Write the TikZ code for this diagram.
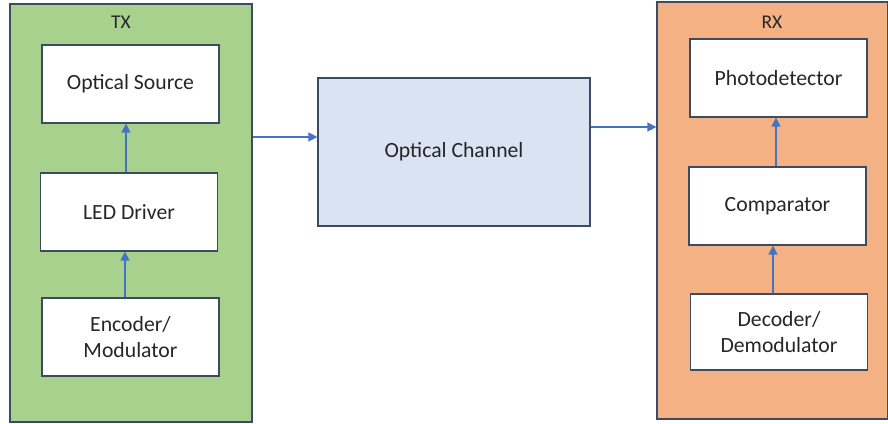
\documentclass[tikz,border=0pt]{standalone}
\usepackage{fontspec}
\setmainfont{Carlito}
\usetikzlibrary{arrows.meta}
\definecolor{txgreen}{HTML}{A9D18E}
\definecolor{rxorange}{HTML}{F4B183}
\definecolor{chblue}{HTML}{DAE3F3}
\definecolor{edge}{HTML}{3B4B63}
\definecolor{arrblue}{HTML}{4472C4}
\definecolor{txt}{HTML}{262626}
\tikzset{
  frame/.style={draw=edge, line width=1.2pt, inner sep=0pt},
  block/.style={draw=edge, line width=1.2pt, fill=white, minimum width=177pt, minimum height=78pt, inner sep=0pt, align=center, text=txt, font=\fontsize{21.7}{26}\selectfont},
  lbl/.style={font=\fontsize{19.5}{22}\selectfont, inner sep=0pt, text=txt},
  arr/.style={draw=arrblue, line width=1.3pt, -{Triangle[length=9pt,width=9pt]}}
}
\begin{document}
\begin{tikzpicture}[x=1pt,y=-1pt]
\useasboundingbox (0,0) rectangle (888,423);
% frames
\node[frame, fill=txgreen, minimum width=242pt, minimum height=418pt] (tx) at (131,213) {};
\node[frame, fill=rxorange, minimum width=231pt, minimum height=417pt] (rx) at (772.5,210.5) {};
\node[frame, fill=chblue, minimum width=272pt, minimum height=148pt, text=txt, font=\fontsize{21.7}{26}\selectfont] (ch) at (454,152) {Optical Channel};
\node[lbl] (txl) at (121,22) {TX};
\node[lbl] (rxl) at (772,22) {RX};
% TX blocks
\node[block] (src) at (130.5,84) {Optical Source};
\node[block] (led) at (129,212) {LED Driver};
\node[block] (enc) at (130.5,337) {Encoder/\\Modulator};
% RX blocks
\node[block] (pd) at (778.5,78) {Photodetector};
\node[block] (cmp) at (777.5,206) {Comparator};
\node[block, minimum height=76pt] (dec) at (779,332) {Decoder/\\Demodulator};
% arrows
\draw[arr] (led.north -| 126,0) -- (src.south -| 126,0);
\draw[arr] (enc.north -| 125,0) -- (led.south -| 125,0);
\draw[arr] (cmp.north -| 776,0) -- (pd.south -| 776,0);
\draw[arr] (dec.north -| 773,0) -- (cmp.south -| 773,0);
\draw[arr] (tx.east |- 0,137) -- (ch.west |- 0,137);
\draw[arr] (ch.east |- 0,127) -- (rx.west |- 0,127);
\end{tikzpicture}
\end{document}
